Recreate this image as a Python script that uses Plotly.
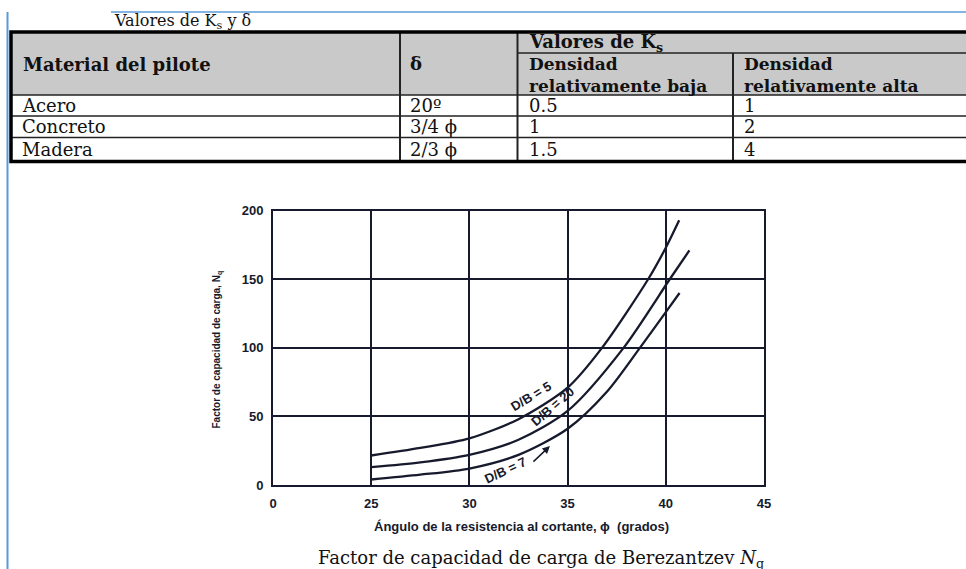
import plotly.graph_objects as go

# ---------------- data ----------------
table_caption = "Valores de K<sub>s</sub> y δ"
col_material_header = "Material del pilote"
col_delta_header = "δ"
ks_group_header = "Valores de K<sub>s</sub>"
ks_low_header = ["Densidad", "relativamente baja"]
ks_high_header = ["Densidad", "relativamente alta"]

materials = ["Acero", "Concreto", "Madera"]
delta_values = ["20º", "3/4 ϕ", "2/3 ϕ"]
ks_low = ["0.5", "1", "1.5"]
ks_high = ["1", "2", "4"]

# Berezantzev Nq curves (phi in degrees, Nq)
phi_db5 = [25, 27.5, 30, 32.5, 35, 36.75, 39.1, 40, 40.68]
nq_db5 = [21.5, 27, 34, 48, 71, 100, 150, 173, 193]
phi_db20 = [25, 27.5, 30, 32.5, 35, 37.85, 40.2, 41.2]
nq_db20 = [13, 16.5, 22, 33, 54, 100, 150, 171]
phi_db70 = [25, 27.5, 30, 32.5, 35, 37, 38.68, 40, 40.7]
nq_db70 = [4, 7.5, 12, 22, 41, 68, 100, 126, 140]

curve_labels = ["D/B = 5", "D/B = 20", "D/B = 7"]

x_tick_vals = [20, 25, 30, 35, 40, 45]
x_tick_text = ["0", "25", "30", "35", "40", "45"]
y_tick_vals = [0, 50, 100, 150, 200]

x_title = "Ángulo de la resistencia al cortante, ϕ  (grados)"
y_title = "Factor de capacidad de carga, N<sub>q</sub>"
figure_caption = "Factor de capacidad de carga de Berezantzev <i>N</i><sub>q</sub>"

# ---------------- styling / layout ----------------
W, H = 966, 569
INK = "#161a2c"
TXT = "#111111"
BLUE = "#5b9bd5"
HEADER_FILL = "#c9c9c9"
SERIF = "DejaVu Serif"
SANS = "Liberation Sans"
NARROW = "Liberation Sans Narrow, Liberation Sans"


def px(x):
    return x / W


def py(y):
    return 1 - y / H


annotations = []
shapes = []


def label(x, y, s, size, bold=False, family=SERIF, anchor="left", color=TXT, angle=0):
    annotations.append(dict(
        xref="paper", yref="paper", x=px(x), y=py(y), text=s, showarrow=False,
        xanchor=anchor, yanchor="middle", borderpad=0, textangle=angle, align="left",
        font=dict(family=family, size=size, color=color, weight="bold" if bold else "normal"),
    ))


def hline(y, x0, x1, width=1.5, color="#222222"):
    shapes.append(dict(type="line", xref="paper", yref="paper", x0=px(x0), x1=px(x1),
                       y0=py(y), y1=py(y), line=dict(color=color, width=width)))


def vline(x, y0, y1, width=1.5, color="#222222"):
    shapes.append(dict(type="line", xref="paper", yref="paper", x0=px(x), x1=px(x),
                       y0=py(y0), y1=py(y1), line=dict(color=color, width=width)))


# page decoration (blue document guide lines)
vline(7.5, 12, 575, width=2, color=BLUE)
hline(12, 111, 970, width=1.5, color=BLUE)

# table geometry
col_edges = [11, 400, 517.5, 733, 972]
top, split, head_bot = 32, 53, 95
row_edges = [95, 116, 137.5, 161.5]
pad = 10

shapes.append(dict(type="rect", xref="paper", yref="paper", x0=px(col_edges[0]), x1=px(col_edges[-1]),
                   y0=py(top), y1=py(head_bot), fillcolor=HEADER_FILL, line=dict(width=0), layer="below"))
for y in row_edges[:-1]:
    hline(y, col_edges[0], col_edges[-1])
hline(split, col_edges[2], col_edges[-1])
vline(col_edges[1], top, row_edges[-1], width=2)
vline(col_edges[2], top, row_edges[-1], width=2)
vline(col_edges[3], split, row_edges[-1], width=2)
shapes.append(dict(type="rect", xref="paper", yref="paper", x0=px(col_edges[0]), x1=px(col_edges[-1]),
                   y0=py(top), y1=py(row_edges[-1]), line=dict(color="#000000", width=3.5)))

# table texts
label(113, 21.5, table_caption, 16)
label(col_edges[0] + 11, 64.5, col_material_header, 18, bold=True)
label(col_edges[1] + 9, 64, col_delta_header, 18, bold=True)
label(col_edges[2] + pad, 43, ks_group_header, 18, bold=True)
label(col_edges[2] + pad, 74.5, "<br>".join(ks_low_header), 17, bold=True)
label(col_edges[3] + pad, 74.5, "<br>".join(ks_high_header), 17, bold=True)

for r in range(len(materials)):
    yc = (row_edges[r] + row_edges[r + 1]) / 2
    label(col_edges[0] + 10, yc, materials[r], 18)
    label(col_edges[1] + 9, yc, delta_values[r], 18)
    label(col_edges[2] + pad, yc, ks_low[r], 18)
    label(col_edges[3] + pad, yc, ks_high[r], 18)

# chart titles
label(521, 526, x_title, 13, bold=True, family=SANS, anchor="center", color=INK)
label(216.5, 350, y_title, 10, bold=True, family=NARROW, anchor="center", color=INK, angle=-90)
label(541, 559, figure_caption, 18, anchor="center")

# ---------------- figure ----------------
fig = go.Figure()
for xs, ys in [(phi_db5, nq_db5), (phi_db20, nq_db20), (phi_db70, nq_db70)]:
    fig.add_trace(go.Scatter(x=xs, y=ys, mode="lines", hoverinfo="skip",
                             line=dict(color=INK, width=2.3, shape="spline", smoothing=0.8)))

# curve labels (data coordinates)
curve_label_pos = [(33.12, 64.4, -31), (34.24, 57.1, -41), (31.81, 10.9, -25)]
for text, (cx, cy, ang) in zip(curve_labels, curve_label_pos):
    annotations.append(dict(xref="x", yref="y", x=cx, y=cy, text=text, showarrow=False,
                            textangle=ang, font=dict(family=SANS, size=13, color=INK, weight="bold")))
annotations.append(dict(xref="x", yref="y", x=34.1, y=28.4, text="", showarrow=True,
                        ax=-18, ay=17, arrowhead=2, arrowsize=1, arrowwidth=1.5, arrowcolor=INK))

axis_font = dict(family=SANS, size=13, color=INK, weight="bold")
fig.update_layout(
    width=W, height=H, margin=dict(l=0, r=0, t=0, b=0, autoexpand=False),
    paper_bgcolor="white", plot_bgcolor="white", showlegend=False,
    xaxis=dict(domain=[px(273), px(764)], range=[20, 45], tickvals=x_tick_vals, ticktext=x_tick_text,
               showgrid=True, gridcolor=INK, gridwidth=2, zeroline=False, showline=True, mirror=True,
               linecolor=INK, linewidth=2, ticks="", tickfont=axis_font, ticklabelstandoff=5,
               automargin=False),
    yaxis=dict(domain=[py(485), py(210.7)], range=[0, 200], tickvals=y_tick_vals,
               showgrid=True, gridcolor=INK, gridwidth=2, zeroline=False, showline=True, mirror=True,
               linecolor=INK, linewidth=2, ticks="", tickfont=axis_font, ticklabelstandoff=5,
               automargin=False),
    shapes=shapes, annotations=annotations,
)

fig.write_html("out.html", post_script="document.body.style.margin='0';document.body.style.overflow='hidden';")
